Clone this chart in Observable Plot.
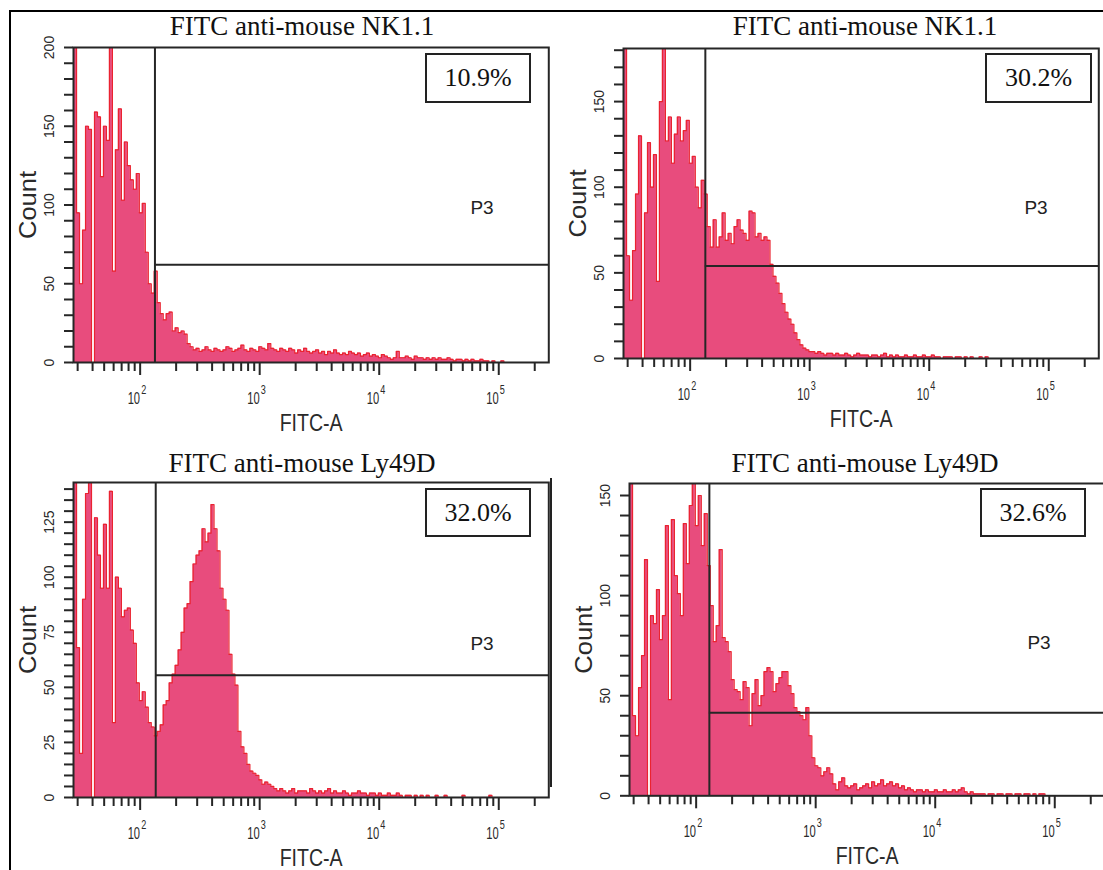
<!DOCTYPE html>
<html><head><meta charset="utf-8">
<script src="https://cdn.jsdelivr.net/npm/d3@7"></script>
<script src="https://cdn.jsdelivr.net/npm/@observablehq/plot@0.6"></script>
<style>
body{margin:0;background:#fff;}
#fig{position:relative;width:1103px;height:870px;overflow:hidden;background:#fff;}
.abs{position:absolute;}
.abs svg{max-width:none !important;}
.title{font-family:"Liberation Serif","Times New Roman",serif;font-size:27px;color:#111;white-space:nowrap;transform:translateX(-50%);line-height:1;}
.pct{border:2px solid #222;box-sizing:border-box;font-family:"Liberation Serif","Times New Roman",serif;font-size:26px;display:flex;align-items:center;justify-content:center;color:#111;}
.p3{font-family:"Liberation Sans",Arial,sans-serif;font-size:19px;color:#222;transform:translate(-50%,-50%);line-height:1;white-space:nowrap;}
</style></head>
<body><div id="fig"></div>
<script>
// ---------- data ----------
const titles = ["FITC anti-mouse NK1.1", "FITC anti-mouse NK1.1", "FITC anti-mouse Ly49D", "FITC anti-mouse Ly49D"];
const percents = ["10.9%", "30.2%", "32.0%", "32.6%"];
const gateLabel = "P3";
const gateX = [133, 134, 135, 129];        // FITC-A value of the P3 gate start
const gateY = [62, 54, 55.5, 41.5];        // count level of the gate marker
const yMax = [200, 181, 143, 156];
const yMajor1 = [0, 50, 100, 150, 200];
const yMajor2 = [0, 50, 100, 150];
const yMajor3 = [0, 25, 50, 75, 100, 125];
const yMajor4 = [0, 50, 100, 150];
const yMinorStep = [10, 10, 5, 10];
const decades = [100, 1000, 10000, 100000];
const decadeExps = ["2", "3", "4", "5"];
const xRange = [27.7, 262144];
const binStartLog = 1.443;     // log10 of the first channel bin
const binsPerDecade = 40;

// counts per log bin
const counts1 = [200,95,50,84,150,148,0,159,156,118,
 150,141,200,58,135,161,103,140,125,116,
 110,120,95,101,70,50,44,58,38,31,
 27,31,32,20,22,19,20,18,12,10,
 8,9,7,8,10,8,7,9,8,7,
 8,10,9,7,8,9,11,8,7,9,
 8,7,10,9,8,12,9,8,7,9,
 8,7,9,8,6,8,7,9,7,6,
 7,8,6,7,5,7,6,8,6,5,
 6,5,7,6,5,6,4,5,6,4,
 5,4,3,5,4,3,2,3,7,3,
 3,4,3,2,4,3,3,2,3,2,
 3,2,3,2,2,3,2,1,2,2,
 1,2,1,2,1,1,2,1,1,0,
 1,0,0,1,0,0];
const counts2 = [182,60,34,63,96,130,0,85,126,100,
 119,45,150,181,127,141,114,131,141,127,
 133,139,114,118,100,88,104,96,77,65,
 81,65,71,85,69,73,67,77,81,75,
 73,69,86,85,71,73,69,71,69,55,
 48,44,38,32,27,23,20,15,11,8,
 6,5,4,4,3,4,3,2,3,3,
 2,3,2,2,3,2,1,2,3,2,
 2,2,1,2,2,1,2,3,1,2,
 1,2,1,1,2,1,1,2,1,1,
 2,1,1,2,1,1,0,1,1,1,
 0,1,1,0,1,0,1,0,0,1,
 0,1,0,0,0,0];
const counts3 = [143,68,20,90,138,143,0,127,110,95,
 124,95,139,34,100,95,82,85,86,76,
 70,52,44,48,41,34,32,28,30,33,
 42,44,52,56,60,67,75,86,88,98,
 106,110,112,122,116,120,133,122,112,95,
 90,85,65,56,51,30,23,20,15,12,
 11,10,8,6,7,6,5,4,3,4,
 3,2,3,4,2,3,3,3,2,4,
 3,2,3,2,3,4,2,3,2,2,
 3,2,1,2,2,3,2,2,1,2,
 2,1,2,1,1,2,1,1,2,1,
 0,1,1,0,1,0,1,0,1,0,
 0,1,0,0,1,0,0,0,0,0,
 1,0,0,0,0,0,0,0,0,1,0];
const counts4 = [156,40,30,54,70,118,0,90,86,103,
 78,90,135,48,138,110,101,90,136,116,
 145,156,135,150,125,141,115,95,77,85,
 123,79,77,72,58,53,52,48,57,54,
 35,51,58,45,50,62,64,62,52,56,
 59,62,62,55,51,44,42,40,38,44,
 30,19,15,14,10,12,14,11,6,3,
 7,9,5,4,5,6,3,4,5,6,
 4,7,5,6,8,5,6,7,5,6,
 4,5,3,4,3,2,3,3,2,3,
 2,2,3,2,2,3,2,2,3,2,
 3,4,2,1,2,1,1,1,1,0,
 1,1,0,1,1,0,1,1,0,1,
 1,0,1,1,0,1,0,1,1,0,
 0];

// ---------- layout ----------
const FILL = "#e84c7d", RED = "#ea2330", DARK = "#262626", TXT = "#2a2a2a";
const SANS = '"Liberation Sans",Arial,sans-serif';
const FRAME_W = 475.3;
const panels = [
  {counts: counts1, yMajor: yMajor1, left: 72.7, top: 47, bottom: 362, titleX: 302, titleTop: 12.5, box: [425, 53, 106, 50], p3: [482, 207]},
  {counts: counts2, yMajor: yMajor2, left: 622.7, top: 48, bottom: 358, titleX: 865, titleTop: 12.5, box: [985, 53, 107, 50], p3: [1036, 207]},
  {counts: counts3, yMajor: yMajor3, left: 73.3, top: 482, bottom: 797, titleX: 302, titleTop: 449.5, box: [425, 488, 106, 49], p3: [482, 643]},
  {counts: counts4, yMajor: yMajor4, left: 629.3, top: 483, bottom: 795.3, titleX: 865, titleTop: 449.5, box: [980, 488, 106, 49], p3: [1039, 642]}
];

const xMinor = [];
for (const d of [10, 100, 1000, 10000, 100000]) for (let m = 2; m <= 9; m++) { const v = m * d; if (v >= xRange[0] && v <= xRange[1]) xMinor.push(v); }

function stepPoints(counts) {
  const pts = [];
  counts.forEach((c, i) => {
    pts.push({x: 10 ** (binStartLog + i / binsPerDecade), y: c});
    pts.push({x: 10 ** (binStartLog + (i + 1) / binsPerDecade), y: c});
  });
  pts.push({x: pts[pts.length - 1].x, y: 0});
  return pts;
}

const fig = document.getElementById("fig");
function addDiv(cls, css, text) {
  const d = document.createElement("div");
  d.className = "abs " + cls;
  Object.assign(d.style, css);
  if (text != null) d.textContent = text;
  fig.appendChild(d);
  return d;
}
function condense(svg, content, len) {
  for (const t of svg.querySelectorAll("text")) {
    if (t.textContent === content) {
      t.setAttribute("textLength", len);
      t.setAttribute("lengthAdjust", "spacingAndGlyphs");
    }
  }
}
// turn "10^k" labels into 10 with a raised exponent, narrowed like the reference font
function superscriptDecades(svg) {
  for (const t of svg.querySelectorAll("text")) {
    const m = /^10\^(\d)$/.exec(t.textContent);
    if (!m) continue;
    t.textContent = "10";
    const ts = document.createElementNS("http://www.w3.org/2000/svg", "tspan");
    ts.setAttribute("dy", "-10");
    ts.setAttribute("dx", "1.5");
    ts.setAttribute("font-size", "13");
    ts.textContent = m[1];
    t.appendChild(ts);
    let tr = t.getAttribute("transform");
    if (!tr) {
      const x = t.getAttribute("x") || 0, y = t.getAttribute("y") || 0;
      t.removeAttribute("x"); t.removeAttribute("y");
      tr = `translate(${x},${y})`;
    }
    t.setAttribute("transform", tr + " scale(0.7,1)");
  }
}

// outer figure border
addDiv("", {left: "9px", top: "10px", width: "1200px", height: "900px", borderTop: "2px solid #000", borderLeft: "2px solid #000"});
addDiv("", {left: "550px", top: "478px", width: "2px", height: "309px", background: "#222"});

panels.forEach((p, k) => {
  const ML = 90, MR = 12, MT = 12, MB = 80;
  const fh = p.bottom - p.top;
  const ymax = yMax[k];
  const pts = stepPoints(p.counts);
  const yMinor = d3.range(0, ymax + 0.001, yMinorStep[k]);
  const W = ML + FRAME_W + MR, H = MT + fh + MB;
  const svg = Plot.plot({
    width: W, height: H,
    marginLeft: ML, marginRight: MR, marginTop: MT, marginBottom: MB,
    x: {type: "log", domain: xRange},
    y: {domain: [0, ymax]},
    style: {background: "transparent", overflow: "visible", fontFamily: SANS, color: TXT, maxWidth: "none"},
    marks: [
      Plot.areaY(pts, {x: "x", y1: 0, y2: "y", fill: FILL, clip: true}),
      Plot.lineY(pts, {x: "x", y: "y", stroke: RED, strokeWidth: 1.2, clip: true}),
      Plot.ruleX([gateX[k]], {y1: 0, y2: ymax, stroke: DARK, strokeWidth: 2}),
      Plot.ruleY([gateY[k]], {x1: gateX[k], x2: xRange[1], stroke: DARK, strokeWidth: 2}),
      Plot.frame({stroke: DARK, strokeWidth: 2}),
      Plot.axisY(yMinor, {anchor: "left", tickSize: 9, tickFormat: () => "", label: null, stroke: DARK, strokeWidth: 2}),
      Plot.text(p.yMajor, {y: d => d, text: d => String(d), frameAnchor: "left", rotate: -90, dx: -24, textAnchor: "middle", lineAnchor: "middle", fontSize: 14, fill: TXT}),
      Plot.axisX(xMinor, {anchor: "bottom", tickSize: 9, tickFormat: () => "", label: null, stroke: DARK, strokeWidth: 2}),
      Plot.axisX(decades, {anchor: "bottom", tickSize: 13, tickFormat: () => "", label: null, stroke: DARK, strokeWidth: 2}),
      Plot.text(decades, {x: d => d, text: (d, i) => "10^" + decadeExps[i], frameAnchor: "bottom", textAnchor: "start", lineAnchor: "middle", dx: -12.5, dy: 36, fontSize: 16, fill: TXT}),
      Plot.text(["Count"], {frameAnchor: "left", rotate: -90, dx: -45, textAnchor: "middle", lineAnchor: "middle", fontSize: 24, fill: TXT}),
      Plot.text(["FITC-A"], {frameAnchor: "bottom", dy: 61, textAnchor: "middle", lineAnchor: "middle", fontSize: 24, fill: TXT})
    ]
  });
  svg.style.maxWidth = "none";
  condense(svg, "FITC-A", 63);
  condense(svg, "Count", 68);
  superscriptDecades(svg);
  const wrap = addDiv("", {left: (p.left - ML) + "px", top: (p.top - MT) + "px", width: W + "px", height: H + "px"});
  wrap.appendChild(svg);
  addDiv("title", {left: p.titleX + "px", top: p.titleTop + "px"}, titles[k]);
  addDiv("pct", {left: p.box[0] + "px", top: p.box[1] + "px", width: p.box[2] + "px", height: p.box[3] + "px", background: "#fff"}, percents[k]);
  addDiv("p3", {left: p.p3[0] + "px", top: p.p3[1] + "px"}, gateLabel);
});
</script></body></html>
